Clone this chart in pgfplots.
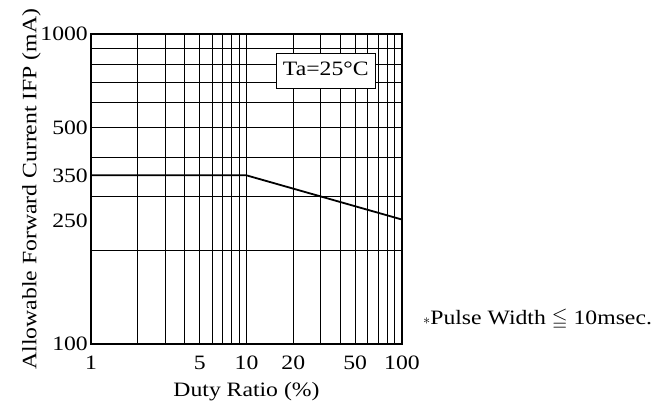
\documentclass[border=0pt]{standalone}
\usepackage{pgfplots}
\pgfplotsset{compat=1.18}
\usepackage{amssymb}
\usepackage{fontspec}
\setmainfont{Liberation Serif}[FakeStretch=1.16]
\begin{document}
\fontsize{20.5}{22}\selectfont
\begin{tikzpicture}[x=1bp,y=1bp]
\useasboundingbox (-91,-59) rectangle (575,344);
\begin{axis}[
    scale only axis,
    width=311bp, height=310bp,
    xmode=log, ymode=log,
    xmin=1, xmax=100,
    ymin=100, ymax=1000,
    xtick={1,5,10,20,50,100},
    xticklabels={1,5,10,20,50,100},
    minor xtick={2,3,4,6,7,8,9,30,40,60,70,80,90},
    ytick={100,250,350,500,1000},
    yticklabels={100,250,350,500,1000},
    minor ytick={200,300,400,500,600,700,800,900},
    xmajorgrids=true, xminorgrids=true,
    yminorgrids=true,
    major tick length=0pt, minor tick length=0pt,
    grid style={black, line width=0.8bp},
    minor grid style={black, line width=0.8bp},
    axis line style={line width=1.8bp},
    /pgf/number format/assume math mode=true,
    font=\fontsize{20.5}{22}\selectfont,
    xticklabel style={anchor=base, yshift=-26bp, inner sep=0pt},
    yticklabel style={anchor=east, xshift=-3bp, inner sep=0pt},
    xlabel={Duty Ratio (\%)},
    ylabel={Allowable Forward Current IFP (mA)},
    xlabel style={at={(rel axis cs:0.5,0)}, anchor=base, yshift=-53bp, inner sep=0pt},
    ylabel style={at={([xshift=-69bp]rel axis cs:0,0.5)}, anchor=north, inner sep=0pt},
    clip=false,
]
\addplot[black, line width=1.8bp] coordinates {
    (1,350) (10,350) (100,252)
};
\node[draw, line width=0.8bp, fill=white, anchor=north east, inner xsep=7bp,
      inner ysep=8.5bp, text height=14bp, text depth=4bp]
      at ([xshift=-26bp,yshift=-19bp]rel axis cs:1,1) {Ta=25\textdegree C};
\node[anchor=base west, inner sep=0pt] at ([xshift=332bp,yshift=19bp]rel axis cs:0,0)
    {$\scriptstyle\ast$Pulse Width $\leqq$ 10msec.};
\end{axis}
\end{tikzpicture}
\end{document}
